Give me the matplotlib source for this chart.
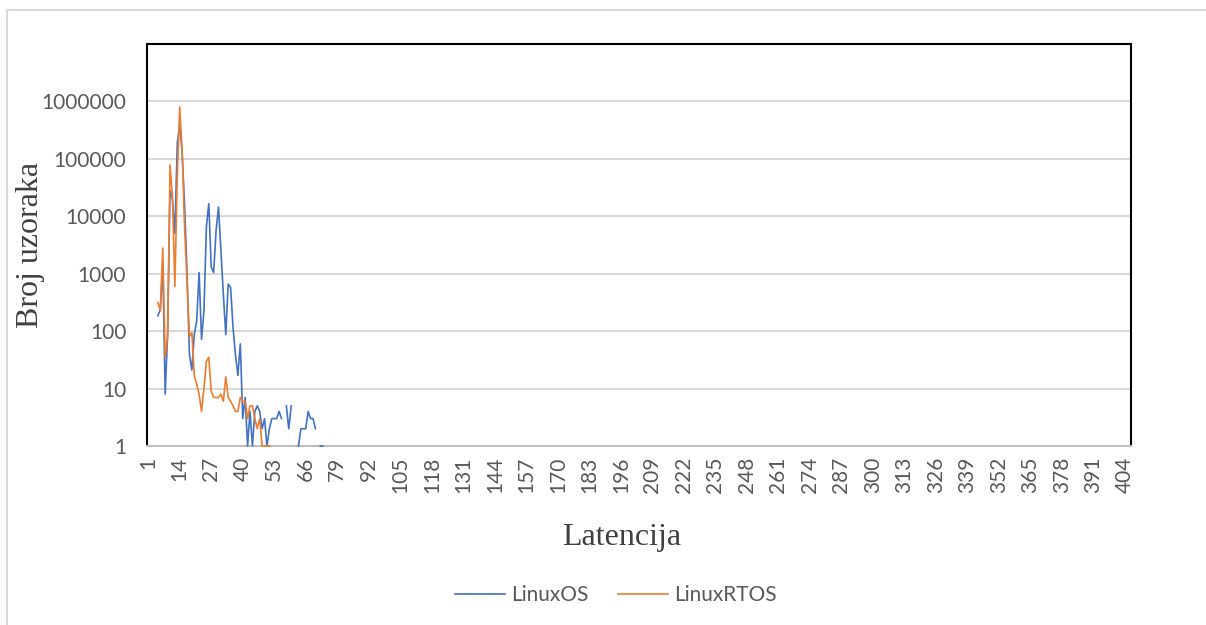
import numpy as np
import matplotlib.pyplot as plt
from matplotlib.lines import Line2D

# latency categories 1..406 on the x axis
n_cat = 406
latency = np.arange(1, n_cat + 1)
tick_labels = [str(v) for v in range(1, n_cat + 1, 13)]

# sample counts, first value belongs to latency 5 (None = no samples)
os_start = 5
linux_os = [185, 240, 1500, 8, 90, 28000, 20000, 5000, 190000, 400000,
            125000, 16000, 1100, 40, 21, 87, 150, 1050, 72, 225,
            6500, 16600, 1300, 1050, 5600, 14500, 2500, 440, 87, 660,
            575, 115, 39, 17, 60, 3, 7, 1, 4, 1,
            4, 5, 4, 2, 3, 1, 2, 3, 3, 3,
            4, 3, None, 5, 2, 5, None, None, 1, 2,
            2, 2, 4, 3, 3, 2, None, 1, 1]

rtos_start = 5
linux_rtos = [316, 225, 2800, 35, 78, 78000, 22000, 600, 49000, 800000,
              140000, 6500, 760, 80, 95, 17, 12, 8, 4, 10,
              30, 35, 9, 7, 7, 7, 8, 6, 16, 7,
              6, 5, 4, 4, 7, 6, 6, 3, 5, 5,
              3, 2, 3, 1, 1, 1, 1]


def full_series(start, vals):
    y = np.full(n_cat, np.nan)
    for k, v in enumerate(vals):
        if v is not None:
            y[start - 1 + k] = v
    return y


y_os = full_series(os_start, linux_os)
y_rtos = full_series(rtos_start, linux_rtos)

W, H = 1206, 625
fig = plt.figure(figsize=(W / 100, H / 100), dpi=100)

# outer chart border (only top and left visible in the picture)
fig.add_artist(Line2D([7 / W, 7 / W], [0, 1 - 10 / H], color='#d9d9d9', lw=1.5))
fig.add_artist(Line2D([7 / W, 1], [1 - 10 / H, 1 - 10 / H], color='#d9d9d9', lw=1.5))

ax = fig.add_axes([147 / W, 1 - 446 / H, (1131 - 147) / W, (446 - 44) / H])
ax.plot(latency, y_os, color='#4472C4', lw=1.2, label='LinuxOS', zorder=3, clip_on=False)
ax.plot(latency, y_rtos, color='#ED7D31', lw=1.2, label='LinuxRTOS', zorder=3, clip_on=False)

ax.set_yscale('log')
ax.set_ylim(1, 1e7)
ax.set_xlim(0.5, n_cat + 0.5)
yt = [1, 10, 100, 1000, 10000, 100000, 1000000]
ax.set_yticks(yt)
ax.set_yticklabels([str(v) for v in yt])
ax.yaxis.set_minor_locator(plt.NullLocator())
ax.set_xticks(np.arange(1, n_cat + 1, 13))
ax.set_xticklabels(tick_labels, rotation=90)
ax.tick_params(length=0, labelcolor='#595959', labelsize=15)
ax.tick_params(axis='y', pad=15)
ax.tick_params(axis='x', pad=8)
for lab in ax.get_xticklabels() + ax.get_yticklabels():
    lab.set_fontfamily('Lato')

ax.grid(axis='y', color='#d9d9d9', lw=1.5)
ax.set_axisbelow(True)
for s in ['top', 'left', 'right']:
    ax.spines[s].set_color('black')
    ax.spines[s].set_linewidth(1.5)
ax.spines['bottom'].set_color('#bfbfbf')
ax.spines['bottom'].set_linewidth(1.5)

fig.text(31 / W, 1 - 245 / H, 'Broj uzoraka', rotation=90, ha='center', va='center',
         fontsize=23, family='Liberation Serif', color='#404040')
fig.text(622 / W, 1 - 538 / H, 'Latencija', ha='center', va='center',
         fontsize=23, family='Liberation Serif', color='#404040')

leg = fig.legend(loc='center', bbox_to_anchor=(616 / W, 1 - 595 / H), ncol=2,
                 frameon=False, prop={'family': 'Lato', 'size': 15},
                 handlelength=2.4, columnspacing=1.4, handletextpad=0.3)
for t in leg.get_texts():
    t.set_color('#595959')

fig.savefig('out.png', dpi=100)
